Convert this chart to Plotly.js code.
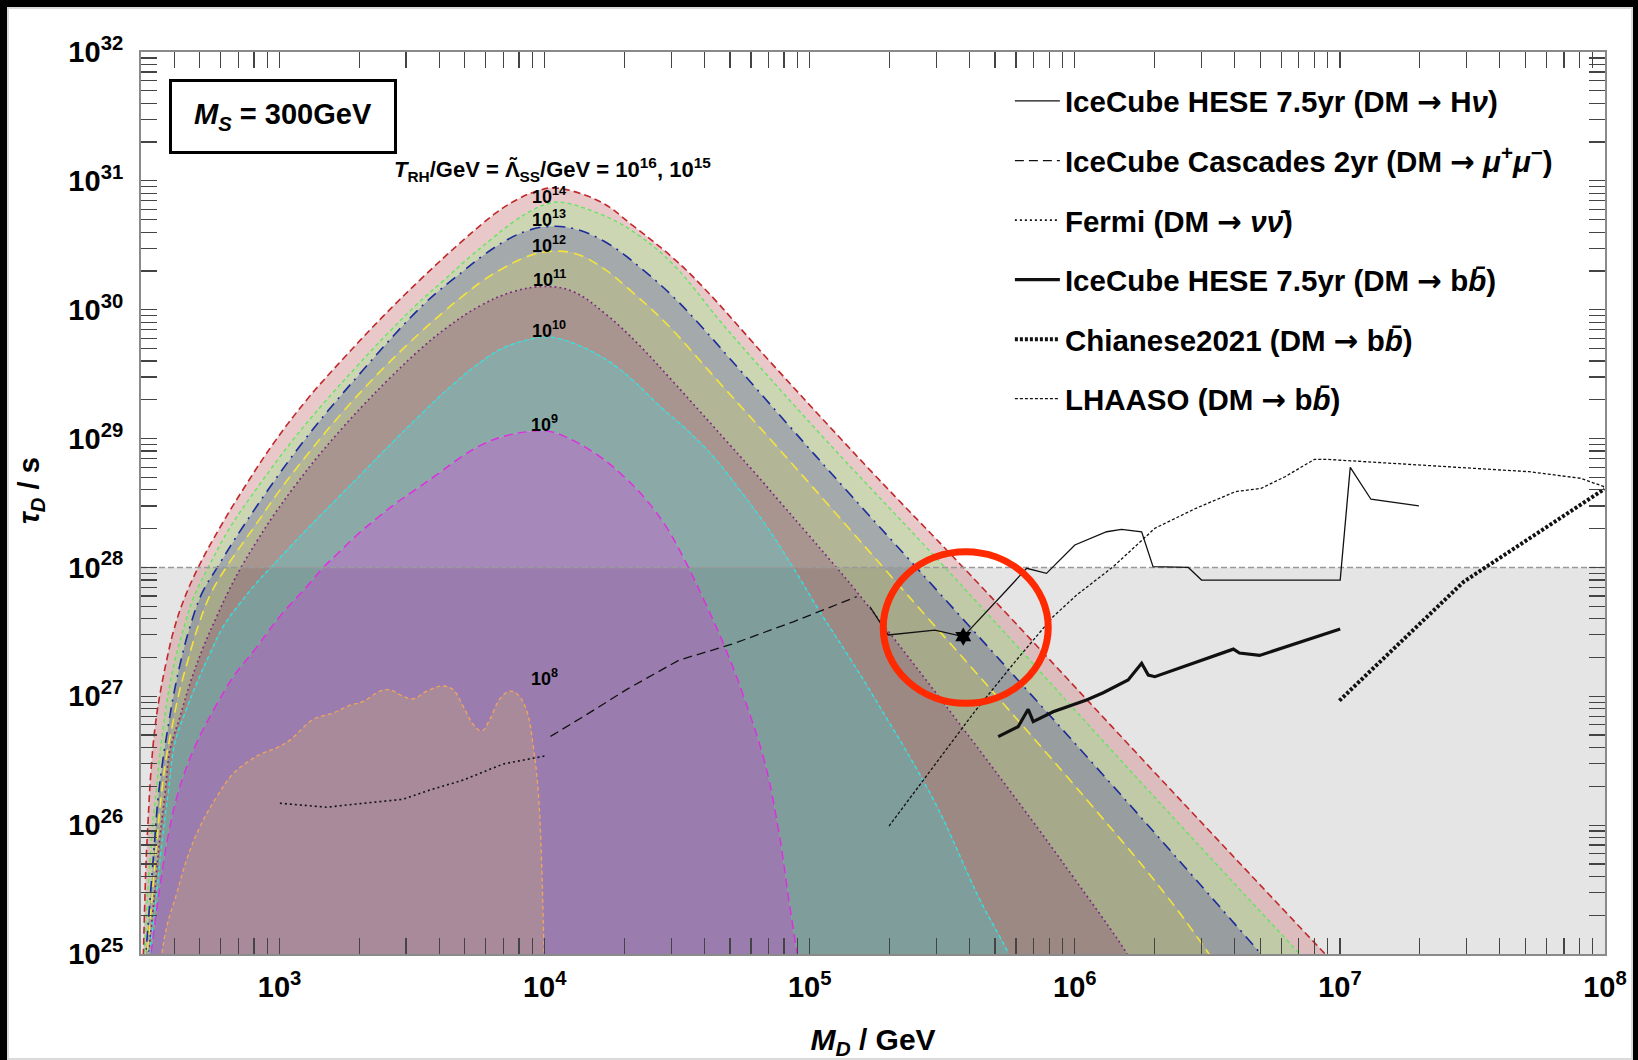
<!DOCTYPE html>
<html>
<head>
<meta charset="utf-8">
<script src="https://cdn.plot.ly/plotly-3.0.1.min.js"></script>
<style>
  html, body { margin:0; padding:0; background:#000; }
  #wrap { position:absolute; left:7px; top:7px; width:1626px; height:1053px; background:#fff; box-shadow: inset 0 0 0 2px #dadada; }
  #plot { width:1626px; height:1053px; }
</style>
</head>
<body>
<div id="wrap"><div id="plot"></div></div>
<script>
// ---------- DATA (log10 of M_D/GeV and log10 of tau_D/s) ----------
const mRangeGeV = [300, 1e8];
const tauLimit = 1e28;

// T_RH = 10^16, 10^15 (red, outermost)
const redLgM   = [2.485,2.490,2.496,2.503,2.514,2.530,2.549,2.574,2.599,2.637,2.693,2.775,2.876,2.976,3.102,3.240,3.391,3.529,3.693,3.819,3.900,3.970,4.039,4.208,4.334,4.485,4.600,4.862,5.239,5.579,6.396,6.990];
const redLgTau = [24.9,25.3,25.7,26.0,26.4,26.76,27.02,27.28,27.50,27.74,28.00,28.31,28.65,28.96,29.30,29.62,29.95,30.23,30.54,30.755,30.86,30.92,30.945,30.84,30.65,30.40,30.17,29.57,28.73,28.00,26.20,24.9];
// 10^14 (green)
const greenLgM   = [2.488,2.500,2.511,2.520,2.534,2.546,2.561,2.580,2.605,2.637,2.674,2.731,2.813,2.920,3.039,3.160,3.291,3.400,3.517,3.620,3.718,3.800,3.881,3.950,4.007,4.060,4.234,4.359,4.485,4.687,5.042,5.510,6.308,6.894];
const greenLgTau = [24.9,25.4,25.73,25.99,26.25,26.51,26.76,27.02,27.28,27.52,27.76,28.00,28.31,28.63,28.96,29.26,29.56,29.80,30.04,30.23,30.41,30.55,30.68,30.77,30.82,30.835,30.72,30.57,30.35,29.85,29.03,28.00,26.20,24.9];
// 10^13 (blue)
const blueLgM   = [2.492,2.511,2.526,2.541,2.560,2.579,2.601,2.628,2.662,2.707,2.765,2.863,3.083,3.314,3.548,3.693,3.767,3.856,3.930,4.007,4.108,4.234,4.359,4.485,4.600,4.699,4.913,5.151,5.415,6.189,6.745];
const blueLgTau = [24.9,25.42,25.81,26.20,26.51,26.76,27.02,27.28,27.54,27.80,28.00,28.32,28.96,29.53,30.05,30.30,30.42,30.54,30.61,30.645,30.63,30.52,30.33,30.10,29.85,29.62,29.12,28.57,27.97,26.20,24.9];
// 10^12 (yellow)
const yellowLgM   = [2.496,2.518,2.534,2.552,2.571,2.594,2.620,2.654,2.692,2.741,2.805,2.913,3.001,3.114,3.240,3.379,3.529,3.617,3.693,3.770,3.850,3.930,4.007,4.108,4.208,4.334,4.460,4.661,4.862,5.064,5.290,6.044,6.358,6.540];
const yellowLgTau = [24.9,25.42,25.81,26.20,26.51,26.76,27.02,27.28,27.54,27.80,28.02,28.34,28.60,28.90,29.21,29.52,29.82,29.98,30.11,30.23,30.33,30.41,30.45,30.44,30.34,30.13,29.89,29.43,28.97,28.50,27.97,26.20,25.42,24.9];
// 10^11 (purple, dotted)
const purpleLgM   = [2.500,2.525,2.548,2.568,2.586,2.624,2.662,2.712,2.763,2.813,2.863,2.913,2.976,3.064,3.140,3.240,3.316,3.416,3.529,3.630,3.756,3.881,4.007,4.108,4.234,4.359,4.485,4.586,4.686,4.799,4.887,4.988,5.088,5.170,5.400,5.805,6.000,6.166,6.213,6.230];
const purpleLgTau = [24.9,25.4,25.9,26.25,26.58,26.84,27.10,27.38,27.62,27.84,28.03,28.20,28.40,28.65,28.85,29.09,29.26,29.47,29.69,29.86,30.03,30.14,30.18,30.14,29.96,29.72,29.44,29.21,28.98,28.72,28.51,28.27,28.03,27.83,27.23,26.13,25.58,25.10,24.95,24.9];
// 10^10 (cyan)
const cyanLgM   = [2.503,2.532,2.558,2.580,2.605,2.643,2.687,2.737,2.787,2.850,2.913,2.967,3.040,3.114,3.215,3.316,3.416,3.529,3.643,3.756,3.850,3.944,4.007,4.108,4.234,4.334,4.435,4.535,4.636,4.736,4.837,4.937,5.040,5.150,5.249,5.466,5.642,5.753,5.760];
const cyanLgTau = [24.9,25.4,25.9,26.25,26.64,26.87,27.10,27.33,27.54,27.72,27.88,28.00,28.16,28.32,28.53,28.74,28.95,29.18,29.40,29.59,29.71,29.77,29.79,29.74,29.61,29.45,29.25,29.07,28.86,28.60,28.32,28.00,27.65,27.30,26.97,26.20,25.42,24.98,24.9];
// 10^9 (magenta)
const magentaLgM   = [2.509,2.540,2.578,2.610,2.637,2.687,2.750,2.825,2.913,3.001,3.102,3.165,3.215,3.291,3.366,3.440,3.517,3.600,3.680,3.760,3.850,3.944,4.007,4.083,4.208,4.296,4.385,4.460,4.530,4.600,4.680,4.752,4.831,4.884,4.921,4.954,4.960];
const magentaLgTau = [24.9,25.4,25.9,26.2,26.38,26.64,26.89,27.15,27.38,27.62,27.85,28.00,28.10,28.25,28.38,28.50,28.61,28.73,28.85,28.95,29.02,29.055,29.06,29.01,28.86,28.71,28.52,28.31,28.05,27.75,27.38,26.99,26.48,25.94,25.42,24.98,24.9];
// 10^8 (orange)
const orangeLgM   = [2.549,2.574,2.612,2.649,2.700,2.763,2.825,2.901,2.938,2.989,3.039,3.127,3.202,3.265,3.316,3.379,3.416,3.466,3.504,3.555,3.617,3.655,3.693,3.731,3.762,3.793,3.831,3.869,3.900,3.932,3.957,3.976,3.988,3.998,4.000];
const orangeLgTau = [24.9,25.21,25.47,25.73,25.99,26.22,26.40,26.52,26.56,26.60,26.66,26.82,26.87,26.93,26.96,27.04,27.05,27.00,26.98,27.04,27.08,27.05,26.92,26.78,26.73,26.82,26.98,27.04,27.01,26.89,26.61,26.25,25.73,25.0,24.9];

// Experimental limits
const heseHnuLgM   = [5.227,5.296,5.472,5.554,5.579,5.743,5.818,5.893,6.000,6.120,6.176,6.252,6.295,6.428,6.478,7.001,7.039,7.117,7.298];
const heseHnuLgTau = [27.695,27.476,27.514,27.476,27.463,27.825,27.993,27.954,28.174,28.277,28.296,28.277,28.006,28.000,27.902,27.902,28.777,28.529,28.477];
const cascLgM   = [4.022,4.152,4.310,4.506,4.703,4.940,5.177];
const cascLgTau = [26.689,26.850,27.054,27.280,27.402,27.580,27.773];
const fermiLgM   = [3.001,3.177,3.316,3.466,3.567,3.693,3.844,4.001];
const fermiLgTau = [26.170,26.139,26.170,26.201,26.273,26.350,26.475,26.537];
const heseBbLgM   = [5.711,5.786,5.824,5.843,5.918,6.044,6.107,6.201,6.252,6.277,6.302,6.598,6.621,6.697,7.001];
const heseBbLgTau = [26.687,26.764,26.899,26.803,26.880,26.971,27.028,27.127,27.256,27.165,27.152,27.366,27.336,27.317,27.522];
const chianeseLgM   = [6.998,7.467,7.998];
const chianeseLgTau = [26.966,27.889,28.609];
const lhaasoLgM   = [5.299,5.617,5.780,5.918,6.007,6.145,6.302,6.457,6.606,6.703,6.793,6.904,6.949,7.713,7.907,7.997];
const lhaasoLgTau = [25.993,26.868,27.282,27.618,27.786,28.006,28.304,28.459,28.588,28.614,28.704,28.839,28.839,28.743,28.692,28.627];
const starLgM = [5.579];
const starLgTau = [27.463];

const curveLabels = ['10<sup>14</sup>','10<sup>13</sup>','10<sup>12</sup>','10<sup>11</sup>','10<sup>10</sup>','10<sup>9</sup>','10<sup>8</sup>'];
const ARROW = '<span style="font-family:\'DejaVu Sans\'">→</span>';
const legendNames = [
  '<b>IceCube HESE 7.5yr (DM ' + ARROW + ' H<i>ν</i>)</b>',
  '<b>IceCube Cascades 2yr (DM ' + ARROW + ' <i>μ</i><sup>+</sup><i>μ</i><sup>−</sup>)</b>',
  '<b>Fermi (DM ' + ARROW + ' <i>νν̄</i>)</b>',
  '<b>IceCube HESE 7.5yr (DM ' + ARROW + ' b<i>b̄</i>)</b>',
  '<b>Chianese2021 (DM ' + ARROW + ' b<i>b̄</i>)</b>',
  '<b>LHAASO (DM ' + ARROW + ' b<i>b̄</i>)</b>'
];

// ---------- BUILD ----------
const FONT = '"Liberation Sans", Arial, Helvetica, sans-serif';
const P = a => a.map(v => Math.pow(10, v));

const traces = [];
// excluded (grey) region below tau = 1e28
traces.push({x:[mRangeGeV[0], mRangeGeV[1], mRangeGeV[1], mRangeGeV[0]], y:[1e24,1e24,tauLimit,tauLimit],
  mode:'lines', fill:'toself', fillcolor:'#e5e5e5', line:{width:0}, showlegend:false, hoverinfo:'skip'});

function band(lgM, lgT, color, dash, width, fill, fillcolor){
  return {x:P(lgM), y:P(lgT), mode:'lines', line:{color, dash, width, shape:'spline', smoothing:1.1}, fill, fillcolor,
    showlegend:false, hoverinfo:'skip'};
}
traces.push(band(magentaLgM, magentaLgTau, '#e02ce0', '9px,5px', 1.4, 'toself', 'rgba(92,40,130,0.55)'));
traces.push(band(cyanLgM, cyanLgTau, '#2fe3e3', '4px,3px', 1.4, 'tonext', 'rgba(42,99,95,0.55)'));
traces.push(band(purpleLgM, purpleLgTau, '#7b2b7b', '2px,3px', 1.6, 'tonext', 'rgba(97,62,51,0.55)'));
traces.push(band(yellowLgM, yellowLgTau, '#f3e33c', '10px,6px', 1.6, 'tonext', 'rgba(117,120,66,0.55)'));
traces.push(band(blueLgM, blueLgTau, '#1c2a9c', '11px,6px,2px,6px', 1.6, 'tonext', 'rgba(90,99,104,0.55)'));
traces.push(band(greenLgM, greenLgTau, '#66e466', '4px,3px', 1.4, 'tonext', 'rgba(164,180,116,0.55)'));
traces.push(band(redLgM, redLgTau, '#c0282c', '7px,4px', 1.6, 'tonext', 'rgba(213,155,155,0.55)'));
traces.push(band(orangeLgM, orangeLgTau, '#f2a45c', '4px,3px', 1.3, 'toself', 'rgb(169,138,155)'));

// dashed 1e28 line
traces.push({x:mRangeGeV, y:[tauLimit,tauLimit], mode:'lines', line:{color:'#9a9a9a', width:1.5, dash:'6px,3px'},
  showlegend:false, hoverinfo:'skip'});

function lim(lgM, lgT, name, legend, width, dash){
  return {x:P(lgM), y:P(lgT), mode:'lines', name, legend, line:{color:'#111', width, dash}, showlegend:true, hoverinfo:'skip'};
}
traces.push(lim(heseHnuLgM, heseHnuLgTau, legendNames[0], 'legend', 1.3, 'solid'));
traces.push(lim(cascLgM, cascLgTau, legendNames[1], 'legend2', 1.3, '9px,5px'));
traces.push(lim(fermiLgM, fermiLgTau, legendNames[2], 'legend3', 1.6, '2px,3px'));
traces.push(lim(heseBbLgM, heseBbLgTau, legendNames[3], 'legend4', 3.2, 'solid'));
traces.push(lim(chianeseLgM, chianeseLgTau, legendNames[4], 'legend5', 4, '3px,2px'));
traces.push(lim(lhaasoLgM, lhaasoLgTau, legendNames[5], 'legend6', 1.3, '3px,2px'));
traces.push({x:P(starLgM), y:P(starLgTau), mode:'markers', marker:{symbol:'hexagram', size:14, color:'#000'},
  showlegend:false, hoverinfo:'skip'});

// ticks: labelled decades as major ticks, 2..9 multiples as minor ticks
const xMajor = [], xMajorText = [], xMinor = [];
for (let d = 2; d <= 8; d++) for (let k = 1; k <= 9; k++) {
  const v = k * Math.pow(10, d);
  if (v < 299 || v > 1.0001e8) continue;
  if (k === 1) { xMajor.push(v); xMajorText.push('<b>10<sup>' + d + '</sup></b>'); } else xMinor.push(v);
}
const yMajor = [], yMajorText = [], yMinor = [];
for (let d = 25; d <= 32; d++) for (let k = 1; k <= 9; k++) {
  if (d === 32 && k > 1) continue;
  const v = k * Math.pow(10, d);
  if (k === 1) { yMajor.push(v); yMajorText.push('<b>10<sup>' + d + '</sup></b>'); } else yMinor.push(v);
}

const axisCommon = {type:'log', showline:true, linecolor:'#8a8a8a', linewidth:2, mirror:'ticks',
  ticks:'inside', ticklen:16, tickwidth:1.2, tickcolor:'#444', tickmode:'array',
  showgrid:false, zeroline:false, tickfont:{family:FONT, size:29, color:'#000'}};

const layout = {
  width:1626, height:1053,
  margin:{l:134, r:28, t:45, b:106},
  paper_bgcolor:'rgba(0,0,0,0)', plot_bgcolor:'#fff',
  font:{family:FONT, color:'#000'},
  xaxis: Object.assign({}, axisCommon, {range:[Math.log10(300), 8], tickvals:xMajor, ticktext:xMajorText,
    minor:{tickmode:'array', tickvals:xMinor, ticks:'inside', ticklen:16, tickwidth:1.2, tickcolor:'#444', showgrid:false},
    ticklabelstandoff:6, automargin:false,
    title:{text:'<b><i>M</i><sub><i>D</i></sub> / GeV</b>', font:{family:FONT, size:30, color:'#000'}, standoff:37}}),
  yaxis: Object.assign({}, axisCommon, {range:[25, 32], tickvals:yMajor, ticktext:yMajorText,
    minor:{tickmode:'array', tickvals:yMinor, ticks:'inside', ticklen:16, tickwidth:1.2, tickcolor:'#444', showgrid:false},
    ticklabelstandoff:10, automargin:false}),
  shapes:[{type:'circle', xref:'paper', yref:'paper', x0:0.507, x1:0.6197, y0:0.2781, y1:0.4459,
    line:{color:'#ff2a00', width:7}, fillcolor:'rgba(0,0,0,0)', layer:'above'}],
  annotations:[],
  showlegend:true
};

const legendY = [0.9454, 0.8793, 0.8133, 0.7472, 0.6813, 0.6153];
legendY.forEach((yy, i) => {
  layout[i === 0 ? 'legend' : 'legend' + (i + 1)] = {x:0.5935, y:yy, xanchor:'left', yanchor:'middle',
    bgcolor:'rgba(0,0,0,0)', borderwidth:0, itemwidth:45, font:{family:FONT, size:29.5, color:'#000'}};
});

// y-axis title
layout.annotations.push({xref:'paper', yref:'paper', x:-0.0751, y:0.5133, xanchor:'center', yanchor:'middle',
  text:'<b><i>τ</i><sub><i>D</i></sub> / s</b>', textangle:-90, showarrow:false, font:{family:FONT, size:29, color:'#000'}});
layout.annotations.push({xref:'paper', yref:'paper', x:0.097, y:0.9285, xanchor:'center', yanchor:'middle',
  text:'<b><i>M</i><sub><i>S</i></sub> = 300GeV</b>', showarrow:false, font:{family:FONT, size:29, color:'#000'},
  bordercolor:'#000', borderwidth:3, borderpad:1, bgcolor:'#fff', width:220, height:67});
layout.annotations.push({xref:'paper', yref:'paper', x:0.281, y:0.8700, xanchor:'center', yanchor:'middle',
  text:'<b><i>T</i><sub>RH</sub>/GeV = Λ̃<sub>SS</sub>/GeV = 10<sup>16</sup>, 10<sup>15</sup></b>', showarrow:false,
  font:{family:FONT, size:22, color:'#000'}});
const labelPos = [[0.2787,0.8404],[0.2787,0.8149],[0.2787,0.7871],[0.2787,0.7494],[0.2787,0.6929],[0.2753,0.5876],[0.2753,0.3060]];
curveLabels.forEach((t, i) => {
  layout.annotations.push({xref:'paper', yref:'paper', x:labelPos[i][0], y:labelPos[i][1], xanchor:'center', yanchor:'middle',
    text:'<b>' + t + '</b>', showarrow:false, font:{family:FONT, size:18, color:'#000'}});
});

Plotly.newPlot('plot', traces, layout, {staticPlot:true, displayModeBar:false});
</script>
</body>
</html>
